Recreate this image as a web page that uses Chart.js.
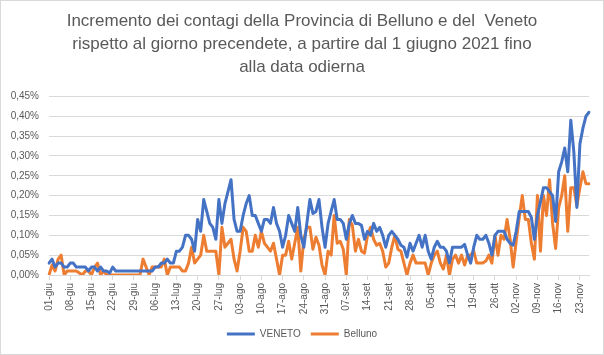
<!DOCTYPE html>
<html><head><meta charset="utf-8">
<script src="https://cdn.jsdelivr.net/npm/chart.js@4.4.1/dist/chart.umd.min.js"></script>
<style>
html,body{margin:0;padding:0;background:#fff;}
canvas{display:block;}
</style></head><body>
<canvas id="c" width="604" height="355"></canvas>
<script>
const titleLines = [
  "Incremento dei contagi della Provincia di Belluno e del  Veneto",
  "rispetto al giorno precendete, a partire dal 1 giugno 2021 fino",
  "alla data odierna"
];
const seriesNames = ["VENETO", "Belluno"];
const monthNames = ["gen","feb","mar","apr","mag","giu","lug","ago","set","ott","nov","dic"];
const tickLabels = ["01-giu","08-giu","15-giu","22-giu","29-giu","06-lug","13-lug","20-lug","27-lug",
  "03-ago","10-ago","17-ago","24-ago","31-ago","07-set","14-set","21-set","28-set",
  "05-ott","12-ott","19-ott","26-ott","02-nov","09-nov","16-nov","23-nov"];
const yTicks = [0, 0.05, 0.10, 0.15, 0.20, 0.25, 0.30, 0.35, 0.40, 0.45];

// daily increment (%) from 01-giu-2021
const veneto = [
  0.03,0.04,0.02,0.03,0.03,0.02,0.02,0.03,0.03,0.02,
  0.02,0.02,0.02,0.01,0.02,0.02,0.01,0.02,0.01,0.01,
  0.005,0.02,0.01,0.01,0.01,0.01,0.01,0.01,0.01,0.01,
  0.01,0.01,0.01,0.01,0.01,0.02,0.02,0.03,0.03,0.04,
  0.03,0.03,0.06,0.06,0.07,0.10,0.10,0.09,0.06,0.14,
  0.11,0.19,0.16,0.13,0.12,0.09,0.19,0.13,0.18,0.21,
  0.24,0.14,0.11,0.11,0.15,0.18,0.20,0.15,0.15,0.13,
  0.11,0.14,0.14,0.13,0.17,0.13,0.11,0.07,0.10,0.15,
  0.13,0.11,0.17,0.10,0.07,0.13,0.19,0.155,0.16,0.19,
  0.12,0.07,0.13,0.16,0.19,0.14,0.14,0.13,0.09,0.13,
  0.15,0.13,0.13,0.125,0.09,0.11,0.10,0.13,0.11,0.12,
  0.10,0.07,0.10,0.11,0.10,0.09,0.075,0.07,0.045,0.08,
  0.06,0.08,0.10,0.07,0.10,0.06,0.04,0.07,0.085,0.07,
  0.07,0.06,0.03,0.07,0.07,0.07,0.07,0.077,0.05,0.03,
  0.07,0.10,0.09,0.09,0.10,0.08,0.05,0.10,0.11,0.11,
  0.11,0.09,0.08,0.075,0.11,0.16,0.16,0.16,0.16,0.145,
  0.09,0.15,0.185,0.22,0.22,0.21,0.20,0.135,0.26,0.285,
  0.32,0.26,0.39,0.31,0.17,0.33,0.37,0.40,0.41
];
const belluno = [
  0,0.025,0.01,0.04,0.05,0,0.01,0.01,0.01,0.01,
  0.005,0,0.01,0.01,0,0.02,0.03,0,0.01,0,
  0,0,0,0,0,0,0,0,0,0,
  0,0.04,0.02,0,0.02,0.02,0.02,0.02,0.04,0,
  0.02,0.02,0.02,0.02,0.01,0.01,0.03,0.07,0.03,0.04,
  0.05,0.10,0.06,0.06,0.06,0.06,0,0.12,0.07,0.08,
  0.09,0.04,0.01,0.06,0.12,0.11,0.06,0.06,0.10,0.07,
  0.11,0.08,0.07,0.06,0.08,0.04,0,0.05,0.05,0.085,
  0.04,0.08,0.12,0.01,0.09,0.12,0.12,0.065,0.095,0.075,
  0.025,0,0.06,0.05,0.15,0.08,0.085,0.065,0,0.14,
  0.125,0.06,0.09,0.06,0.055,0.10,0.12,0.09,0.075,0.08,
  0.06,0.02,0.03,0.07,0.10,0.065,0.06,0.03,0,0.03,
  0.05,0.03,0.03,0.03,0.03,0,0.03,0.05,0.06,0.03,
  0.015,0.05,0,0.04,0.05,0.03,0.05,0.025,0.05,0.05,
  0.06,0.03,0.03,0.03,0.035,0.05,0.03,0.10,0.05,0.10,
  0.09,0.14,0.09,0.02,0.085,0.145,0.20,0.14,0.14,0.08,
  0.04,0.20,0.06,0.20,0.15,0.24,0.13,0.067,0.17,0.20,
  0.25,0.11,0.22,0.22,0.175,0.22,0.26,0.23,0.23
];

const categories = [];
for (let i = 0; i < veneto.length; i++) {
  const d = new Date(2021, 5, 1 + i);
  categories.push(String(d.getDate()).padStart(2, "0") + "-" + monthNames[d.getMonth()]);
}

const TXT = "#595959";
const GRID = "#d9d9d9";
const FONT = "'Liberation Sans', Arial, sans-serif";

const borderPlugin = {
  id: "frame",
  beforeDraw(chart) {
    const c = chart.ctx;
    c.save();
    c.fillStyle = "#fff";
    c.fillRect(0, 0, chart.width, chart.height);
    c.strokeStyle = GRID;
    c.lineWidth = 1;
    c.strokeRect(0.5, 0.5, chart.width - 1, chart.height - 1);
    c.restore();
  }
};

new Chart(document.getElementById("c"), {
  type: "line",
  data: {
    labels: categories,
    datasets: [
      { label: seriesNames[0], data: veneto, borderColor: "#4472C4", backgroundColor: "#4472C4",
        borderWidth: 3, pointRadius: 0, tension: 0, borderJoinStyle: "round", borderCapStyle: "round" },
      { label: seriesNames[1], data: belluno, borderColor: "#ED7D31", backgroundColor: "#ED7D31",
        borderWidth: 3, pointRadius: 0, tension: 0, borderJoinStyle: "round", borderCapStyle: "round" }
    ]
  },
  options: {
    responsive: false,
    animation: false,
    events: [],
    layout: { padding: { left: 0, right: 0, top: 0, bottom: 6 } },
    plugins: {
      title: {
        display: true,
        text: titleLines,
        color: TXT,
        font: { family: FONT, size: 17, weight: "normal", lineHeight: 1.36 },
        padding: { top: 10, bottom: 17 }
      },
      legend: {
        position: "bottom",
        labels: {
          color: TXT,
          font: { family: FONT, size: 10 },
          boxWidth: 28,
          boxHeight: 3,
          padding: 10,
          generateLabels(chart) {
            return chart.data.datasets.map((ds, i) => ({
              text: ds.label, fillStyle: ds.borderColor, strokeStyle: ds.borderColor,
              lineWidth: 0, hidden: false, datasetIndex: i, fontColor: TXT
            }));
          }
        }
      },
      tooltip: { enabled: false }
    },
    scales: {
      x: {
        type: "category",
        offset: false,
        grid: { drawOnChartArea: false, drawTicks: true, tickLength: 5, color: GRID },
        border: { color: GRID },
        ticks: {
          autoSkip: false, maxRotation: 90, minRotation: 90, color: TXT, padding: 3,
          font: { family: FONT, size: 10 },
          callback(v, i) { const lab = categories[i]; return tickLabels.includes(lab) ? lab : null; }
        },
        afterFit(s) { s.height = 44; }
      },
      y: {
        min: 0, max: 0.45,
        afterBuildTicks(s) { s.ticks = yTicks.map(v => ({ value: v })); },
        grid: { color: GRID, drawTicks: false },
        border: { display: false },
        ticks: {
          color: TXT, padding: 10,
          font: { family: FONT, size: 10 },
          callback(v) { return v.toFixed(2).replace(".", ",") + "%"; }
        },
        afterFit(s) { s.width = 49; }
      },
      yPad: {
        position: "right",
        display: true,
        grid: { display: false, drawOnChartArea: false },
        border: { display: false },
        ticks: { display: false },
        afterFit(s) { s.width = 15; }
      }
    }
  },
  plugins: [borderPlugin]
});
</script>
</body></html>
